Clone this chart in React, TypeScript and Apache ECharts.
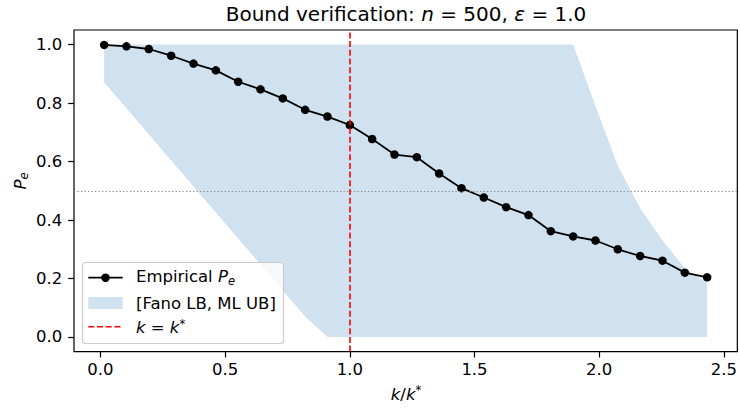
import React, { useEffect, useRef } from "react";
import * as echarts from "echarts";

// k / k* for each evaluated k
const xRatio = [
  0.0149, 0.1045, 0.194, 0.2836, 0.3731, 0.4627, 0.5522, 0.6418, 0.7313, 0.8209,
  0.9104, 1.0, 1.0896, 1.1791, 1.2687, 1.3582, 1.4478, 1.5373, 1.6269, 1.7164,
  1.806, 1.8955, 1.9851, 2.0746, 2.1642, 2.2537, 2.3433, 2.4328,
];
// Empirical error probability
const empiricalPe = [
  0.999, 0.994, 0.985, 0.962, 0.935, 0.912, 0.873, 0.847, 0.816, 0.777,
  0.754, 0.725, 0.677, 0.624, 0.615, 0.559, 0.509, 0.477, 0.444, 0.417,
  0.362, 0.344, 0.33, 0.3, 0.277, 0.261, 0.22, 0.204,
];
// Fano lower bound
const fanoLB = [
  0.871, 0.782, 0.693, 0.604, 0.515, 0.426, 0.337, 0.248, 0.159, 0.07,
  0, 0, 0, 0, 0, 0, 0, 0, 0, 0,
  0, 0, 0, 0, 0, 0, 0, 0,
];
// ML upper bound
const mlUB = [
  1, 1, 1, 1, 1, 1, 1, 1, 1, 1,
  1, 1, 1, 1, 1, 1, 1, 1, 1, 1,
  1, 1, 0.79, 0.585, 0.44, 0.33, 0.235, 0.185,
];
const xTicks = [0, 0.5, 1.0, 1.5, 2.0, 2.5];
const yTicks = [0, 0.2, 0.4, 0.6, 0.8, 1.0];
const kStarLine = 1.0;
const refLine = 0.5;

const FONT = "'DejaVu Sans', sans-serif";
const BAND = "rgba(31,119,180,0.21)";

export default function App() {
  const ref = useRef<HTMLDivElement>(null);

  useEffect(() => {
    if (!ref.current) return;
    const chart = echarts.init(ref.current, null, { renderer: "svg" });

    const rich = {
      r: { fontFamily: FONT, fontSize: 16.5, lineHeight: 20, fill: "#000" },
      i: { fontFamily: FONT, fontSize: 16.5, lineHeight: 20, fontStyle: "italic", fill: "#000" },
      sub: { fontFamily: FONT, fontSize: 11.5, lineHeight: 12, fontStyle: "italic", verticalAlign: "bottom", fill: "#000" },
      sup: { fontFamily: FONT, fontSize: 11.5, lineHeight: 12, verticalAlign: "top", fill: "#000" },
      tr: { fontFamily: FONT, fontSize: 20, lineHeight: 24, fill: "#000" },
      ti: { fontFamily: FONT, fontSize: 20, lineHeight: 24, fontStyle: "italic", fill: "#000" },
    };

    const option: any = {
      animation: false,
      backgroundColor: "#fff",
      grid: {
        left: 74,
        right: 1.5,
        top: 30,
        bottom: 56.4,
        show: true,
        borderColor: "#000",
        borderWidth: 1.2,
        backgroundColor: "transparent",
      },
      xAxis: {
        type: "value",
        min: -0.106,
        max: 2.554,
        axisLine: { show: false, onZero: false },
        splitLine: { show: false },
        axisTick: {
          show: true,
          length: 5.8,
          customValues: xTicks,
          lineStyle: { color: "#000", width: 1.2 },
        },
        axisLabel: {
          customValues: xTicks,
          formatter: (v: number) => v.toFixed(1),
          fontFamily: FONT,
          fontSize: 16.5,
          color: "#000",
          margin: 9,
        },
      },
      yAxis: {
        type: "value",
        min: -0.05,
        max: 1.05,
        axisLine: { show: false, onZero: false },
        splitLine: { show: false },
        axisTick: {
          show: true,
          length: 5.8,
          customValues: yTicks,
          lineStyle: { color: "#000", width: 1.2 },
        },
        axisLabel: {
          customValues: yTicks,
          formatter: (v: number) => v.toFixed(1),
          fontFamily: FONT,
          fontSize: 16.5,
          color: "#000",
          margin: 11.7,
        },
      },
      series: [
        {
          type: "custom",
          name: "band",
          z: 1,
          silent: true,
          data: xRatio.map((x, i) => [x, fanoLB[i], mlUB[i]]),
          encode: { x: 0, y: [1, 2] },
          renderItem: (params: any, api: any) => {
            if (params.dataIndex !== 0) return null;
            const upper = xRatio.map((x, i) => api.coord([x, mlUB[i]]));
            const lower = xRatio.map((x, i) => api.coord([x, fanoLB[i]])).reverse();
            return {
              type: "polygon",
              shape: { points: upper.concat(lower) },
              style: { fill: BAND },
            };
          },
        },
        {
          type: "line",
          name: "refs",
          z: 3,
          data: [],
          silent: true,
          markLine: {
            silent: true,
            symbol: "none",
            label: { show: false },
            data: [
              {
                yAxis: refLine,
                lineStyle: { color: "#8a8a8a", width: 1.2, type: [1.3, 2.2] },
              },
              {
                xAxis: kStarLine,
                lineStyle: { color: "#ff0000", width: 1.6, type: [6, 2.7] },
              },
            ],
          },
        },
        {
          type: "line",
          name: "Empirical",
          z: 4,
          data: xRatio.map((x, i) => [x, empiricalPe[i]]),
          symbol: "circle",
          symbolSize: 8.5,
          itemStyle: { color: "#000" },
          lineStyle: { color: "#000", width: 1.8 },
        },
      ],
      graphic: [
        {
          type: "text",
          x: 406,
          y: 13.5,
          z: 10,
          style: {
            text: "{tr|Bound verification: }{ti|n}{tr| = 500, }{ti|ε}{tr| = 1.0}",
            rich,
            align: "center",
            verticalAlign: "middle",
          },
        },
        {
          type: "text",
          x: 406,
          y: 394,
          z: 10,
          style: {
            text: "{i|k}{r|/}{i|k}{sup|*}",
            rich,
            align: "center",
            verticalAlign: "middle",
          },
        },
        {
          type: "text",
          x: 20,
          y: 181,
          rotation: Math.PI / 2,
          z: 10,
          style: {
            text: "{i|P}{sub|e}",
            rich,
            align: "center",
            verticalAlign: "middle",
          },
        },
        // legend
        {
          type: "rect",
          z: 20,
          shape: { x: 82.5, y: 262.5, width: 201, height: 81, r: 3 },
          style: { fill: "rgba(255,255,255,0.8)", stroke: "#cccccc", lineWidth: 1.2 },
        },
        {
          type: "line",
          z: 21,
          shape: { x1: 88.3, y1: 277.7, x2: 122.7, y2: 277.7 },
          style: { stroke: "#000", lineWidth: 1.8 },
        },
        {
          type: "circle",
          z: 21,
          shape: { cx: 105.5, cy: 277.7, r: 4.25 },
          style: { fill: "#000" },
        },
        {
          type: "rect",
          z: 21,
          shape: { x: 88.3, y: 297, width: 34.4, height: 12 },
          style: { fill: BAND },
        },
        {
          type: "line",
          z: 21,
          shape: { x1: 88.3, y1: 326.7, x2: 122.7, y2: 326.7 },
          style: { stroke: "#ff0000", lineWidth: 1.6, lineDash: [6, 2.7] },
        },
        {
          type: "text",
          x: 136,
          y: 276.5,
          z: 21,
          style: {
            text: "{r|Empirical }{i|P}{sub|e}",
            rich,
            align: "left",
            verticalAlign: "middle",
          },
        },
        {
          type: "text",
          x: 136,
          y: 303,
          z: 21,
          style: {
            text: "{r|[Fano LB, ML UB]}",
            rich,
            align: "left",
            verticalAlign: "middle",
          },
        },
        {
          type: "text",
          x: 136,
          y: 327.5,
          z: 21,
          style: {
            text: "{i|k}{r| = }{i|k}{sup|*}",
            rich,
            align: "left",
            verticalAlign: "middle",
          },
        },
      ],
    };

    chart.setOption(option);
    return () => chart.dispose();
  }, []);

  return (
    <div
      ref={ref}
      style={{ position: "absolute", left: 0, top: 0, width: 740, height: 408 }}
    />
  );
}
